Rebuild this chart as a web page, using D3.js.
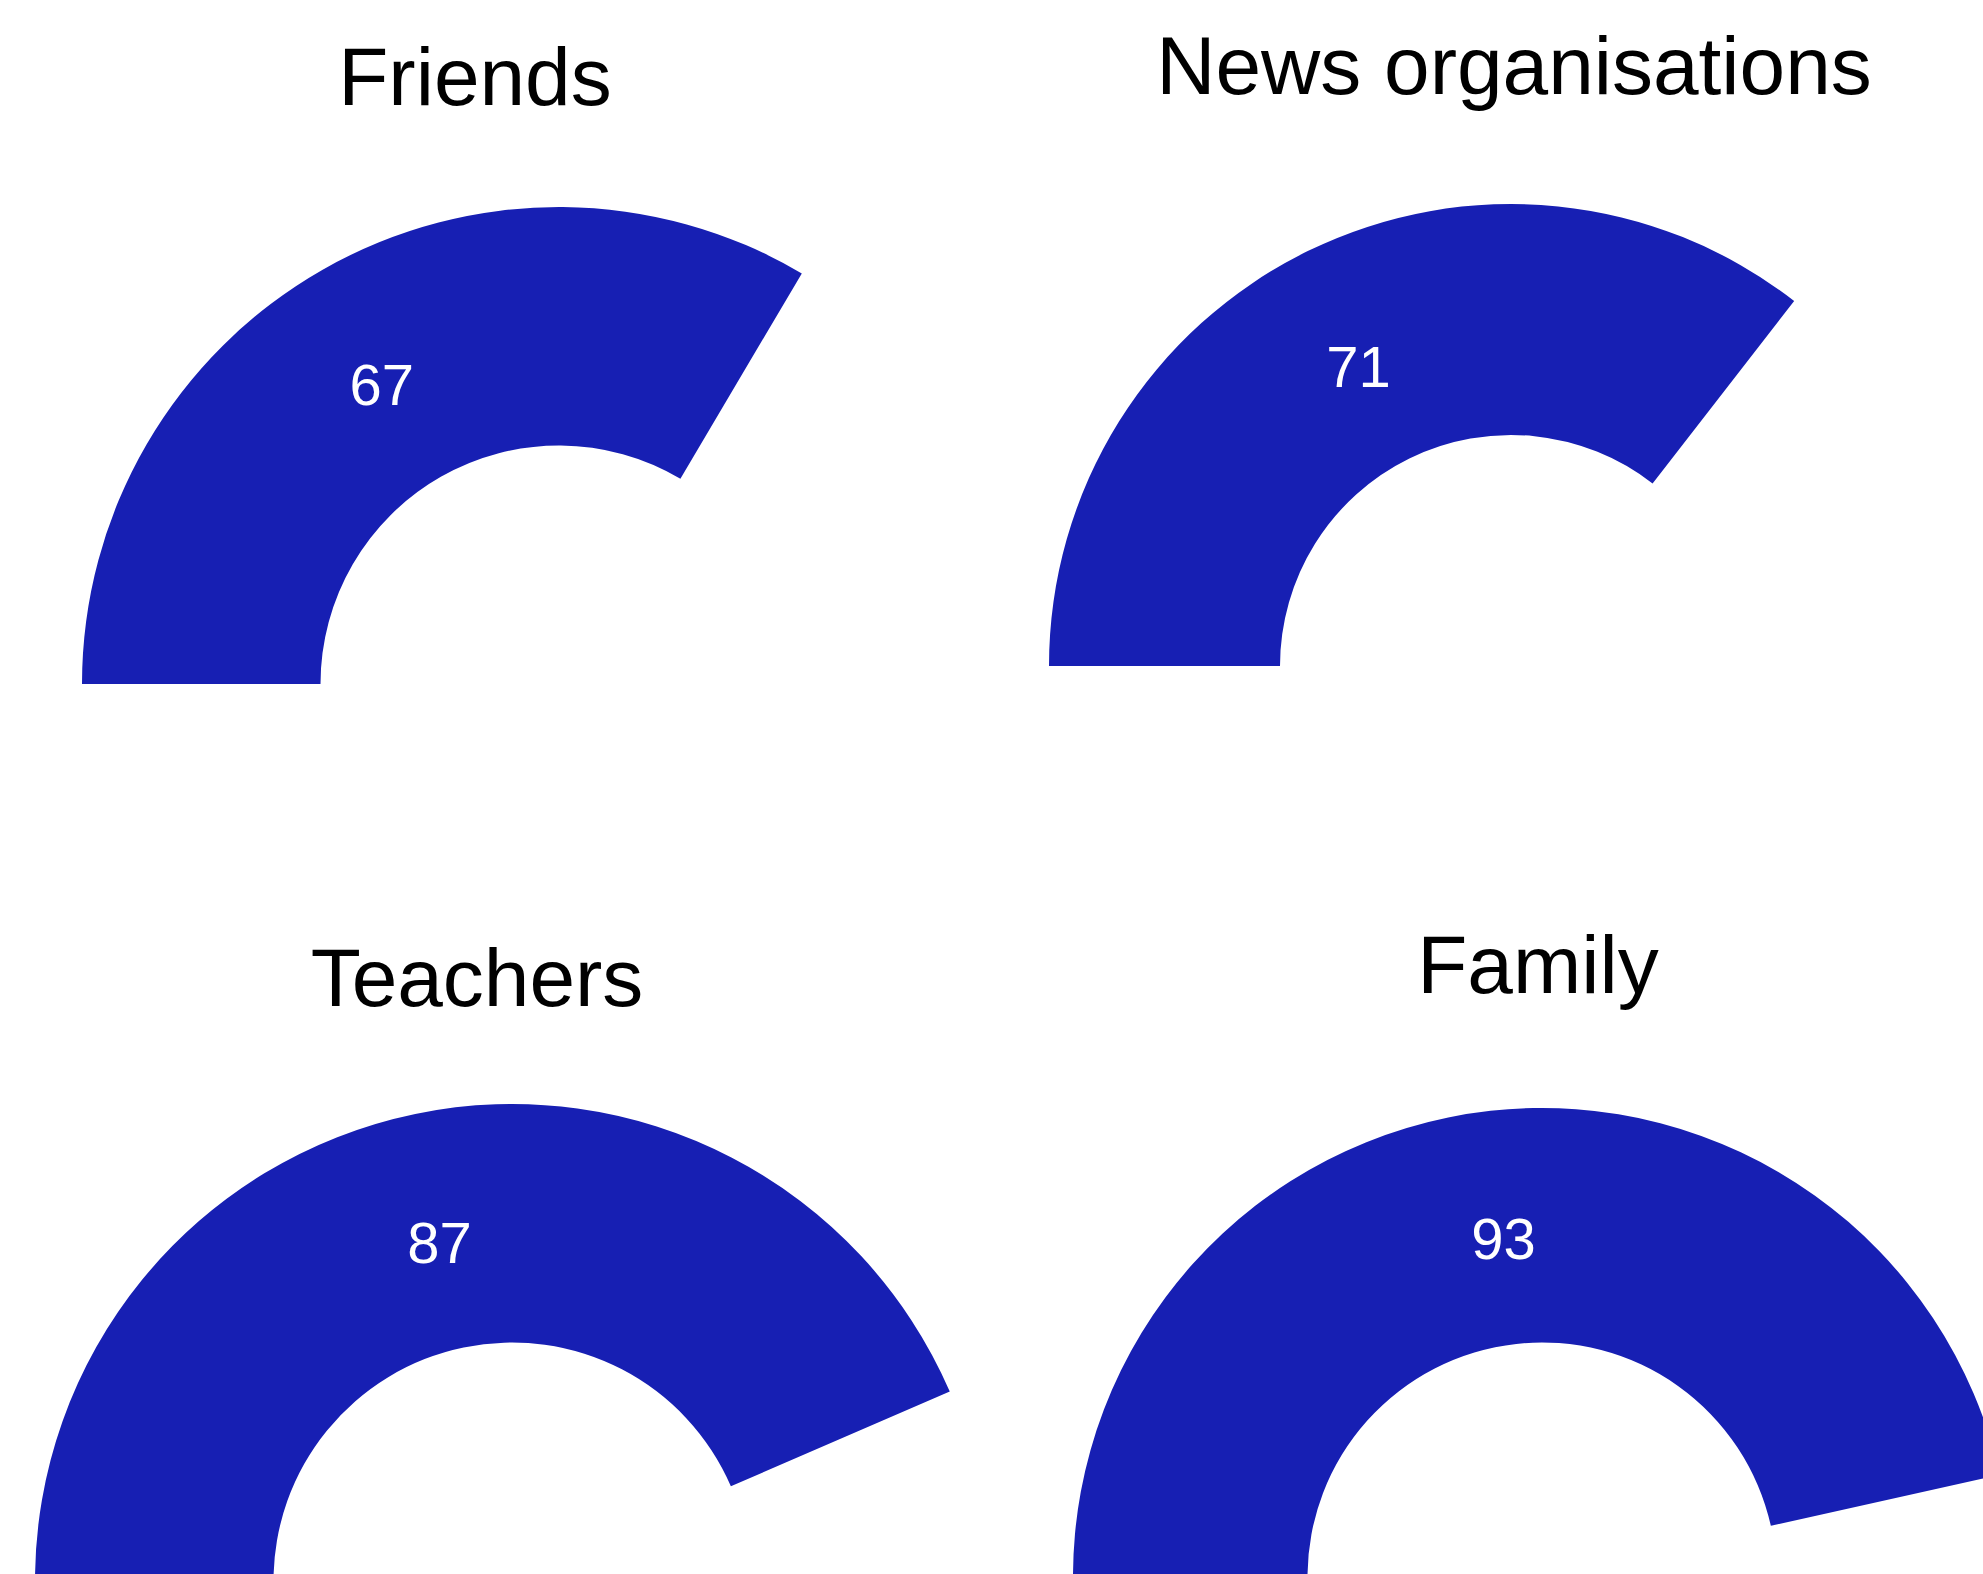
<!DOCTYPE html>
<html>
<head>
<meta charset="utf-8">
<script src="https://cdn.jsdelivr.net/npm/d3@7"></script>
<style>
  html, body { margin: 0; padding: 0; background: #ffffff; }
  svg { display: block; }
  text { font-family: "Liberation Sans", Arial, sans-serif; }
</style>
</head>
<body>
<svg id="chart" width="1983" height="1574"></svg>
<script>
// ---- data ----
const categories = ["Friends", "News organisations", "Teachers", "Family"];
const values = [67, 71, 87, 93];
const gaugeMin = 0;
const gaugeMax = 100;

// ---- layout (panel geometry, not data) ----
const panels = [
  { cx: 559,  cy: 684,  r: 477, titleX: 475,  titleY: 105 },
  { cx: 1511, cy: 666,  r: 462, titleX: 1514, titleY: 94 },
  { cx: 512,  cy: 1581, r: 477, titleX: 477,  titleY: 1006 },
  { cx: 1542, cy: 1577, r: 469, titleX: 1538, titleY: 993 }
];
const fillColor = "#171FB3";

const svg = d3.select("#chart");
svg.append("rect").attr("width", 1983).attr("height", 1574).attr("fill", "#ffffff");

const angle = d3.scaleLinear()
  .domain([gaugeMin, gaugeMax])
  .range([-Math.PI / 2, Math.PI / 2]);

categories.forEach((cat, i) => {
  const p = panels[i];
  const v = values[i];
  const g = svg.append("g").attr("transform", `translate(${p.cx},${p.cy})`);

  const arc = d3.arc()
    .innerRadius(p.r * 0.5)
    .outerRadius(p.r)
    .startAngle(angle(gaugeMin))
    .endAngle(angle(v));

  g.append("path")
    .attr("d", arc())
    .attr("fill", fillColor);

  const c = arc.centroid();
  g.append("text")
    .attr("x", c[0])
    .attr("y", c[1])
    .attr("dy", "0.55em")
    .attr("text-anchor", "middle")
    .attr("font-size", 58)
    .attr("fill", "#ffffff")
    .text(v);

  svg.append("text")
    .attr("x", p.titleX)
    .attr("y", p.titleY)
    .attr("text-anchor", "middle")
    .attr("font-size", 82)
    .attr("fill", "#000000")
    .text(cat);
});
</script>
</body>
</html>
